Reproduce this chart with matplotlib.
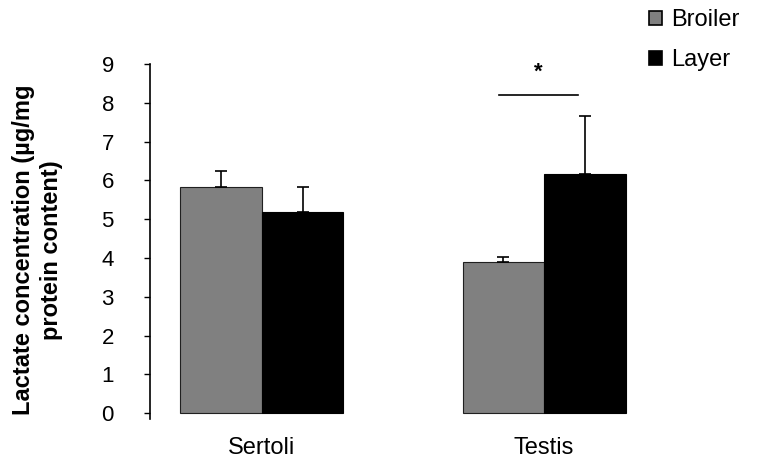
import matplotlib
matplotlib.use("Agg")
import matplotlib.pyplot as plt
import numpy as np
from matplotlib.patches import Patch

plt.rcParams['font.family'] = ['Liberation Sans', 'DejaVu Sans']

categories = ["Sertoli", "Testis"]
series_names = ["Broiler", "Layer"]
broiler = [5.82, 3.89]
layer = [5.18, 6.16]
broiler_err = [0.42, 0.13]
layer_err = [0.64, 1.50]
yticks = [0, 1, 2, 3, 4, 5, 6, 7, 8, 9]
sig_x = [0.84, 1.12]
sig_y = 8.2
star_y = 8.8

colors = ["#808080", "#000000"]

fig = plt.figure(figsize=(7.7, 4.65), dpi=100)
ax = fig.add_axes([150/770, (465-419)/465, 550/770, (419-64)/465])

x = np.arange(len(categories))
w = 0.289
ax.bar(x - w/2, broiler, w, color=colors[0], edgecolor="#202020", linewidth=0.8,
       yerr=[np.zeros(2), broiler_err], capsize=4,
       error_kw=dict(elinewidth=1.2, capthick=1.2, ecolor="black"), zorder=2)
ax.bar(x + w/2, layer, w, color=colors[1], edgecolor="black", linewidth=0.8,
       yerr=[np.zeros(2), layer_err], capsize=4,
       error_kw=dict(elinewidth=1.2, capthick=1.2, ecolor="black"), zorder=2)

ax.plot(sig_x, [sig_y, sig_y], color="black", lw=1.2)
ax.text(np.mean(sig_x), star_y, "*", ha="center", va="center",
        fontsize=16, fontweight="bold")

ax.set_ylim(-0.15, 9)
ax.set_xlim(-0.397, 1.553)
ax.set_yticks(yticks)
ax.set_yticklabels([str(t) for t in yticks], fontsize=16)
ax.set_xticks(x)
ax.set_xticklabels(categories, fontsize=17)
ax.tick_params(axis="x", length=0, pad=13)
ax.tick_params(axis="y", direction="out", length=4, width=1, pad=22)
for s in ["top", "right", "bottom"]:
    ax.spines[s].set_visible(False)
ax.spines["left"].set_linewidth(1.2)

ax.set_ylabel("Lactate concentration (µg/mg\nprotein content)", fontsize=17,
              fontweight="bold", linespacing=1.3)
ax.yaxis.set_label_coords(-0.158, 0.476)

handles = [Patch(facecolor=colors[0], edgecolor="black", linewidth=1.2),
           Patch(facecolor=colors[1], edgecolor="black", linewidth=1.2)]
fig.legend(handles, series_names, loc="upper left", bbox_to_anchor=(640/770, 1.0),
           frameon=False, fontsize=17, handlelength=0.55, handleheight=0.55,
           handletextpad=0.35, labelspacing=0.75, borderaxespad=0.0)

fig.savefig("out.png", dpi=100)
